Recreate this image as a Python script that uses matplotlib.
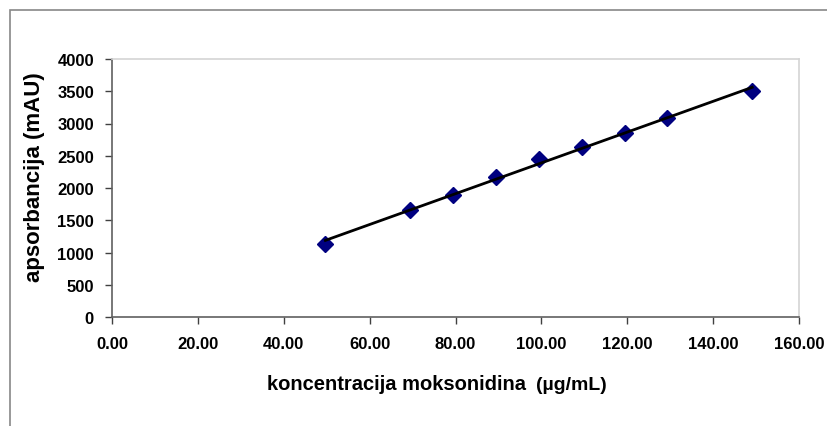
import matplotlib.pyplot as plt
from matplotlib.patches import Rectangle
import numpy as np

# Calibration data: concentration (ug/mL) vs absorbance (mAU)
conc = [49.7, 69.5, 79.4, 89.4, 99.4, 109.4, 119.4, 129.3, 149.1]
absorb = [1132, 1659, 1891, 2166, 2450, 2631, 2853, 3080, 3509]

xticks = [0, 20, 40, 60, 80, 100, 120, 140, 160]
yticks = [0, 500, 1000, 1500, 2000, 2500, 3000, 3500, 4000]

plt.rcParams['font.family'] = ['Liberation Sans', 'DejaVu Sans']

fig = plt.figure(figsize=(8.28, 4.27), dpi=100, facecolor='white')
W, H = 828, 427
ax = fig.add_axes([112 / W, 1 - 318 / H, (799 - 112) / W, (318 - 60) / H])

# chart area border
fig.patches.append(Rectangle((10 / W, -0.1), 1.2, 1 - 11 / H + 0.1, transform=fig.transFigure,
                             fill=False, edgecolor='#888888', linewidth=1.2))

# linear trendline
k, b = np.polyfit(conc, absorb, 1)
xs = np.array([conc[0], conc[-1]])
ax.plot(xs, k * xs + b, color='black', linewidth=2, zorder=3)
ax.plot(conc, absorb, linestyle='none', marker='D', markersize=8,
        color='#000080', zorder=2)

ax.set_xlim(0, 160)
ax.set_ylim(0, 4000)
ax.set_xticks(xticks)
ax.set_xticklabels([f'{v:.2f}' for v in xticks])
ax.set_yticks(yticks)

for side in ['left', 'bottom']:
    ax.spines[side].set_color('#606060')
    ax.spines[side].set_linewidth(1.2)
for side in ['top', 'right']:
    ax.spines[side].set_color('#d4d4d4')
    ax.spines[side].set_linewidth(1.2)

ax.tick_params(direction='out', length=5, width=1, color='#404040',
               labelsize=12, pad=8)
for lab in ax.get_xticklabels() + ax.get_yticklabels():
    lab.set_fontweight('bold')
ax.tick_params(axis='x', pad=9)

# axis titles
fig.text(35 / W, 1 - 177 / H, 'apsorbancija (mAU)', rotation=90,
         ha='center', va='center', fontsize=16, fontweight='bold')
fig.text(526 / W, 1 - 385 / H, 'koncentracija moksonidina', ha='right',
         va='center', fontsize=14.5, fontweight='bold')
fig.text(536 / W, 1 - 386 / H, '(µg/mL)', ha='left', va='center',
         fontsize=14, fontweight='bold')

fig.savefig('out.png', dpi=100)
